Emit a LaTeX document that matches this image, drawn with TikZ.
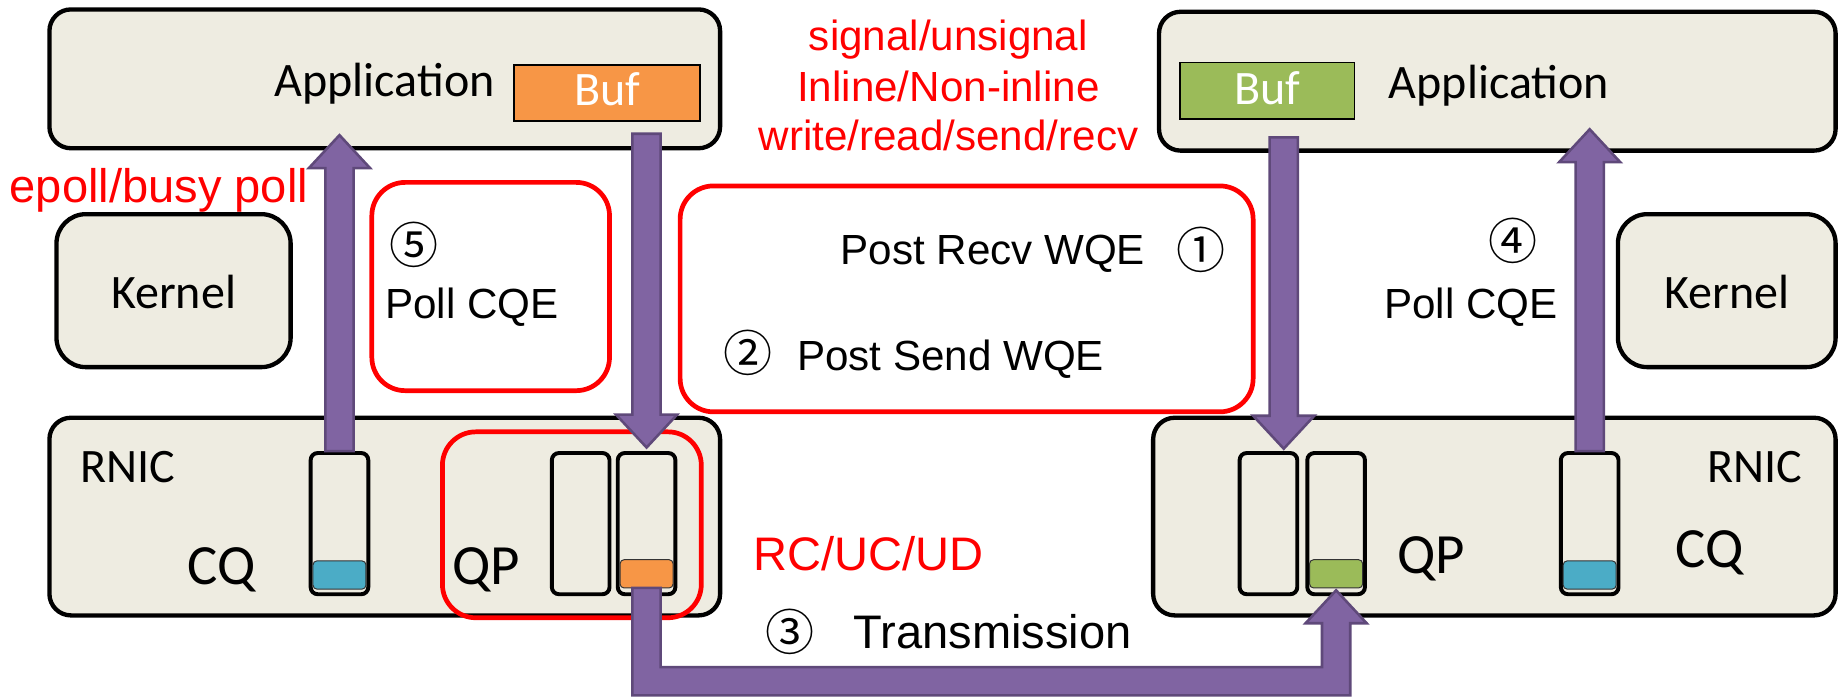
\documentclass[tikz,border=0pt]{standalone}
\usepackage{fontspec}
\setmainfont{Liberation Sans}
\newfontfamily\calfont{Carlito}
\newfontfamily\circfont{Noto Sans CJK SC}
\usetikzlibrary{calc}
\definecolor{paper}{HTML}{EEECE1}
\definecolor{bufor}{HTML}{F79646}
\definecolor{bufgr}{HTML}{9BBB59}
\definecolor{cqblue}{HTML}{4BACC6}
\definecolor{arrowfill}{HTML}{8064A2}
\definecolor{arrowline}{HTML}{5F497A}
\def\px{0.6pt}
% vertical block arrow: start point, tip point, direction (1 = up, -1 = down)
\newcommand\vblock[3]{%
  \filldraw[parrow] let \p1=#1, \p2=#2 in
    ({\x2-7.2pt},\y1) -- ({\x2-7.2pt},{\y2-(#3)*16.8pt}) -- ({\x2-15.6pt},{\y2-(#3)*16.8pt}) -- (\p2)
    -- ({\x2+15.6pt},{\y2-(#3)*16.8pt}) -- ({\x2+7.2pt},{\y2-(#3)*16.8pt}) -- ({\x2+7.2pt},\y1) -- cycle;}
\begin{document}
\begin{tikzpicture}[x=0.6pt,y=-0.6pt,
  box/.style={draw=black, line width=2.2pt, fill=paper, rounded corners=11pt, inner sep=0pt},
  kbox/.style={box, rounded corners=15pt, minimum height=130*\px},
  redbox/.style={draw=red, line width=2.4pt, rounded corners=17pt, inner sep=0pt},
  col/.style={draw=black, line width=2pt, fill=paper, rounded corners=3.6pt,
    minimum width=49*\px, minimum height=120*\px, inner sep=0pt},
  slot/.style={draw=black!80, line width=0.5pt, rounded corners=2pt,
    minimum width=45*\px, minimum height=24*\px, inner sep=0pt},
  buf/.style={draw=black, line width=0.8pt, minimum height=48*\px, inner sep=0pt},
  lbl/.style={font=\calfont\fontsize{24.5}{28}\selectfont, inner sep=0pt},
  big/.style={font=\calfont\fontsize{29}{34}\selectfont, inner sep=0pt},
  txt/.style={font=\fontsize{21.5}{26}\selectfont, inner sep=0pt},
  redtxt/.style={txt, text=red},
  num/.style={font=\circfont\fontsize{25}{28}\selectfont, inner sep=0pt},
  parrow/.style={fill=arrowfill, draw=arrowline, line width=1.3pt, line join=miter}]
\useasboundingbox (0,0) rectangle (1568,592);

% ---------- left host ----------
\node[box, minimum width=570*\px, minimum height=118*\px] (appL) at (327,67) {};
\node[lbl, anchor=base] (appLt) at (327,82) {Application};
\node[buf, fill=bufor, minimum width=158*\px] (bufL) at (516,79) {};
\node[lbl, anchor=base, text=white] (bufLt) at (516,90) {Buf};
\node[kbox, minimum width=199*\px] (kerL) at (147.5,247) {};
\node[lbl, anchor=base] (kerLt) at (147.5,262) {Kernel};
\node[box, minimum width=570*\px, minimum height=168*\px] (rnicL) at (327,439) {};
\node[lbl, anchor=base west] (rnicLt) at (68,410) {RNIC};
\node[col] (cqL) at (288.5,445) {};
\node[col] (qpL1) at (493.5,445) {};
\node[col] (qpL2) at (549.5,445) {};
\node[slot, fill=cqblue] (cqLs) at ($(cqL.south)+(0,-18)$) {};
\node[slot, fill=bufor] (qpLs) at ($(qpL2.south)+(0,-19)$) {};
\node[big, anchor=base] (cqLt) at (188,497) {CQ};
\node[big, anchor=base] (qpLt) at (413,497) {QP};
\node[redbox, minimum width=220*\px, minimum height=158*\px] (qpred) at (486,446) {};
\node[redbox, minimum width=202*\px, minimum height=177*\px] (pollred) at (417,243.5) {};
\node[num] (n5) at (352,208) {⑤};
\node[txt, anchor=base west] (pollL) at (327,271) {Poll CQE};
\node[redtxt, anchor=base west, font=\fontsize{24}{28}\selectfont] (epoll) at (8,172) {epoll/busy poll};

% ---------- middle ----------
\node[redtxt, anchor=base] (opt1) at (806,43) {signal/unsignal};
\node[redtxt, anchor=base] (opt2) at (806,86) {Inline/Non-inline};
\node[redtxt, anchor=base] (opt3) at (806,128) {write/read/send/recv};
\node[redbox, minimum width=487*\px, minimum height=192*\px] (postred) at (821.5,254) {};
\node[txt, anchor=base west] (precv) at (714,225) {Post Recv WQE};
\node[num] (n1) at (1021,212) {①};
\node[num] (n2) at (636,300) {②};
\node[txt, anchor=base west] (psend) at (677,315) {Post Send WQE};
\node[redtxt, anchor=base west, font=\fontsize{24}{28}\selectfont] (rc) at (640,485) {RC/UC/UD};
\node[num] (n3) at (671,537) {③};
\node[txt, anchor=base west, font=\fontsize{24}{28}\selectfont] (trans) at (725,551) {Transmission};

% ---------- right host ----------
\node[box, minimum width=575*\px, minimum height=118*\px] (appR) at (1272.5,69) {};
\node[buf, fill=bufgr, minimum width=148*\px] (bufR) at (1077,77) {};
\node[lbl, anchor=base, text=white] (bufRt) at (1077,89) {Buf};
\node[lbl, anchor=base west] (appRt) at (1180,84) {Application};
\node[kbox, minimum width=185*\px] (kerR) at (1467.5,247) {};
\node[lbl, anchor=base] (kerRt) at (1467.5,262) {Kernel};
\node[num] (n4) at (1286,205) {④};
\node[txt, anchor=base west] (pollR) at (1176,271) {Poll CQE};
\node[box, minimum width=580*\px, minimum height=168*\px] (rnicR) at (1270,439) {};
\node[lbl, anchor=base east] (rnicRt) at (1532,410) {RNIC};
\node[col] (qpR1) at (1078,445) {};
\node[col] (qpR2) at (1135.5,445) {};
\node[col] (cqR) at (1351,445) {};
\node[slot, fill=bufgr] (qpRs) at ($(qpR2.south)+(0,-19)$) {};
\node[slot, fill=cqblue] (cqRs) at ($(cqR.south)+(0,-18)$) {};
\node[big, anchor=base west] (qpRt) at (1187,487) {QP};
\node[big, anchor=base west] (cqRt) at (1424,482) {CQ};

% ---------- arrows ----------
\coordinate (bar) at (0,579);
% poll completions up to the application
\vblock{(cqL.north)}{($(cqL.north |- appL.south)+(0,-13)$)}{1}
\vblock{(cqR.north)}{($(cqR.north |- appR.south)+(0,-20)$)}{1}
% posting work requests down to the queues
\vblock{($(qpL2.north |- bufL.south)+(0,10)$)}{($(qpL2.north)+(0,-3)$)}{-1}
\vblock{($(bufR.south)+(14,15)$)}{($(bufR.south |- qpR1.north)+(14,-2)$)}{-1}
% transmission between the two QPs
\filldraw[parrow] let \p1=($(qpL2.south)+(0,-7)$), \p2=($(qpR2.south)+(0,-5)$), \p3=(bar) in
  ({\x1-7.2pt},\y1) -- ({\x1-7.2pt},{\y3-7.2pt}) -- ({\x2+7.2pt},{\y3-7.2pt})
  -- ({\x2+7.2pt},{\y2-16.8pt}) -- ({\x2+15.6pt},{\y2-16.8pt}) -- (\p2)
  -- ({\x2-15.6pt},{\y2-16.8pt}) -- ({\x2-7.2pt},{\y2-16.8pt}) -- ({\x2-7.2pt},{\y3+7.2pt})
  -- ({\x1+7.2pt},{\y3+7.2pt}) -- ({\x1+7.2pt},\y1) -- cycle;
\end{tikzpicture}
\end{document}
